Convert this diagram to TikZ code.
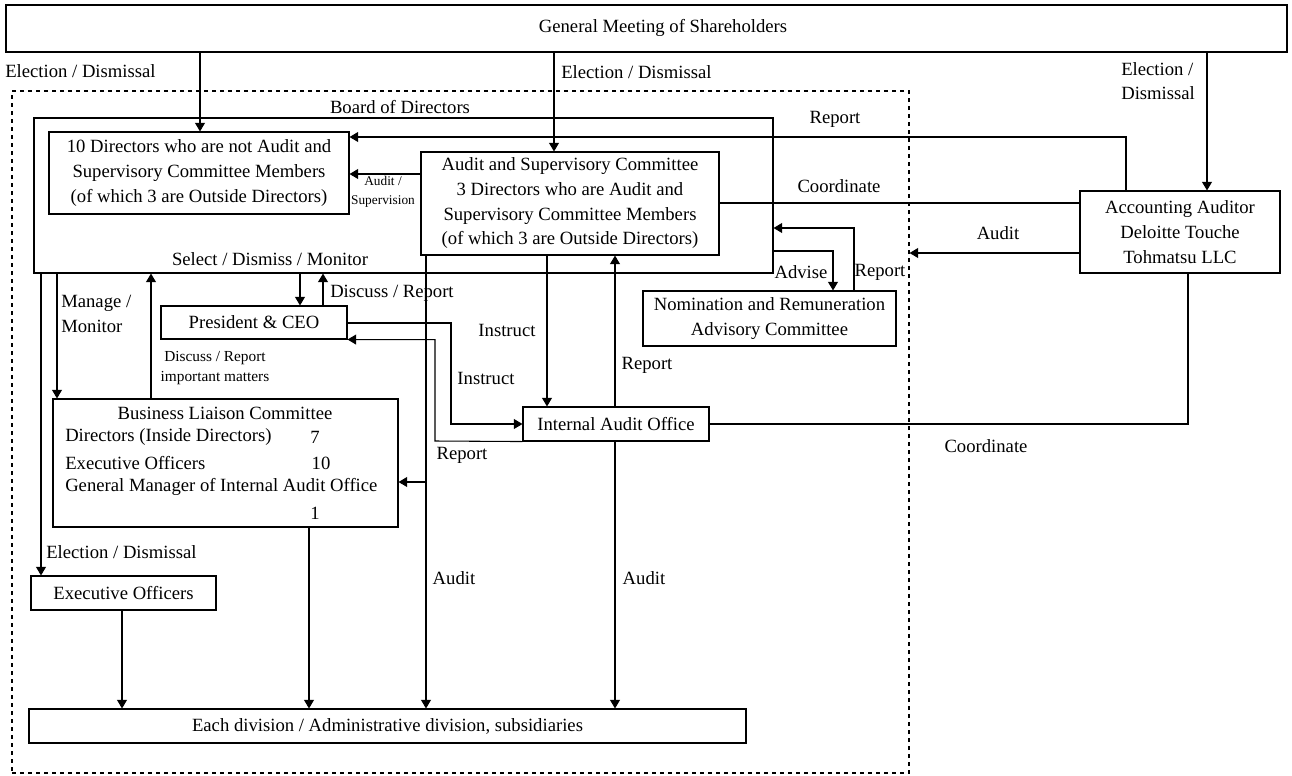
\documentclass[tikz,border=0pt]{standalone}
\usepackage{fontspec}
\setmainfont{Liberation Serif}
\usetikzlibrary{arrows.meta}
\begin{document}
\begin{tikzpicture}[x=0.75pt,y=-0.75pt,
  box/.style={draw, line width=0.8pt, inner sep=0pt, align=center, font=\fontsize{14pt}{18.5pt}\selectfont},
  lbl/.style={inner sep=0pt, align=left, font=\fontsize{14pt}{18.5pt}\selectfont},
  sml/.style={inner sep=0pt, align=center, font=\fontsize{10pt}{14pt}\selectfont},
  mid/.style={inner sep=0pt, align=center, font=\fontsize{11.5pt}{15pt}\selectfont},
  arr/.style={line width=0.8pt, -{Triangle[length=6.5pt,width=7.5pt]}},
  ln/.style={line width=0.8pt}]
\useasboundingbox (0,0) rectangle (1292,775);

% frames
\node[draw, dashed, line width=0.8pt, minimum width=672.75pt, minimum height=511.5pt, inner sep=0pt] (dash) at (460.5,432) {};
\node[box, minimum width=554.25pt, minimum height=116.25pt] (board) at (403.5,195.5) {};
\node[box, minimum width=960.75pt, minimum height=35.25pt] (gms) at (646.5,28.5) {};
\node[lbl] (gmst) at (663,28) {General Meeting of Shareholders};

% boxes
\node[box, minimum width=225pt, minimum height=61.5pt] (dir10) at (199,173) {10 Directors who are not Audit and\\Supervisory Committee Members\\(of which 3 are Outside Directors)};
\node[box, minimum width=223.5pt, minimum height=77.25pt] (asc) at (570,203.5) {Audit and Supervisory Committee\\3 Directors who are Audit and\\Supervisory Committee Members\\(of which 3 are Outside Directors)};
\node[box, minimum width=150pt, minimum height=61.5pt] (aud) at (1180,232) {Accounting Auditor\\Deloitte Touche\\Tohmatsu LLC};
\node[box, minimum width=189.75pt, minimum height=41.25pt] (nom) at (769.5,318.5) {Nomination and Remuneration\\Advisory Committee};
\node[box, minimum width=139.5pt, minimum height=24.75pt] (ceo) at (254,322.5) {President \& CEO};
\node[box, minimum width=139.5pt, minimum height=25.5pt] (iao) at (616,424) {Internal Audit Office};
\node[box, minimum width=258.75pt, minimum height=96pt] (blc) at (225.5,463) {};
\node[box, minimum width=138.75pt, minimum height=25.5pt] (exo) at (123.5,593) {Executive Officers};
\node[box, minimum width=537.75pt, minimum height=25.5pt] (div) at (387.5,726) {Each division / Administrative division, subsidiaries};

% BLC contents
\node[lbl] (blct) at (225,413) {Business Liaison Committee};
\node[lbl, anchor=west] (blc1) at (65,437) {Directors (Inside Directors)};
\node[lbl] (blc1n) at (315,437) {7};
\node[lbl, anchor=west] (blc2) at (65,463) {Executive Officers};
\node[lbl] (blc2n) at (321,463) {10};
\node[lbl, anchor=west] (blc3) at (65,487) {General Manager of Internal Audit Office};
\node[lbl] (blc3n) at (315,513) {1};

% labels
\node[lbl, anchor=west] (l1) at (5,71) {Election / Dismissal};
\node[lbl, anchor=west] (l2) at (561,72) {Election / Dismissal};
\node[lbl, anchor=west] (l3) at (1121,81) {Election /\\Dismissal};
\node[lbl] (l4) at (400,107) {Board of Directors};
\node[lbl] (l5) at (835,119) {Report};
\node[lbl] (l6) at (839,186) {Coordinate};
\node[sml] (l7) at (383,192) {Audit /\\Supervision};
\node[lbl] (l8) at (998,233) {Audit};
\node[lbl] (l9) at (270,259) {Select / Dismiss / Monitor};
\node[lbl, anchor=west] (l10) at (330,293) {Discuss / Report};
\node[lbl] (l11) at (801,272) {Advise};
\node[lbl] (l12) at (880,272) {Report};
\node[lbl, anchor=west] (l13) at (61,314) {Manage /\\Monitor};
\node[mid] (l14) at (215,368) {Discuss / Report\\important matters};
\node[lbl] (l15) at (507,330) {Instruct};
\node[lbl] (l16) at (486,378) {Instruct};
\node[lbl] (l17) at (647,365) {Report};
\node[lbl] (l18) at (462,455) {Report};
\node[lbl] (l19) at (986,446) {Coordinate};
\node[lbl, anchor=west] (l20) at (46,552) {Election / Dismissal};
\node[lbl] (l21) at (454,578) {Audit};
\node[lbl] (l22) at (644,578) {Audit};

% connectors
\draw[arr] (gms.south -| 200,0) -- (dir10.north -| 200,0);
\draw[arr] (gms.south -| 554,0) -- (asc.north -| 554,0);
\draw[arr] (gms.south -| 1207,0) -- (aud.north -| 1207,0);
\draw[arr] (aud.north -| 1126,0) |- (dir10.east |- 0,137);
\draw[arr] (asc.west |- 0,174) -- (dir10.east |- 0,174);
\draw[ln] (aud.west |- 0,203) -- (asc.east |- 0,203);
\draw[arr] (aud.west |- 0,253) -- (dash.east |- 0,253);
\draw[ln] (aud.south -| 1188,0) |- (iao.east);
\draw[arr] (board.east |- 0,251) -| (nom.north -| 833,0);
\draw[arr] (nom.north -| 854,0) |- (board.east |- 0,228);
\draw[arr] (board.south -| 300,0) -- (ceo.north -| 300,0);
\draw[arr] (ceo.north -| 323,0) -- (board.south -| 323,0);
\draw[arr] (board.south -| 57,0) -- (blc.north -| 57,0);
\draw[arr] (blc.north -| 151,0) -- (board.south -| 151,0);
\draw[arr] (board.south -| 41,0) -- (exo.north -| 41,0);
\draw[arr] (exo.south -| 122,0) -- (div.north -| 122,0);
\draw[arr] (blc.south -| 309,0) -- (div.north -| 309,0);
\draw[arr] (asc.south -| 426,0) -- (div.north -| 426,0);
\coordinate (br) at (426,482);
\draw[arr] (br) -- (blc.east |- br);
\draw[arr] (asc.south -| 547,0) -- (iao.north -| 547,0);
\draw[arr] (iao.north -| 615,0) -- (asc.south -| 615,0);
\draw[arr] (iao.south -| 615,0) -- (div.north -| 615,0);
\draw[arr] (ceo.east |- 0,323) -- (451,323) |- (iao.west);
\draw[arr] (iao.south west) -- (435,441) |- (ceo.south east);
\end{tikzpicture}
\end{document}
